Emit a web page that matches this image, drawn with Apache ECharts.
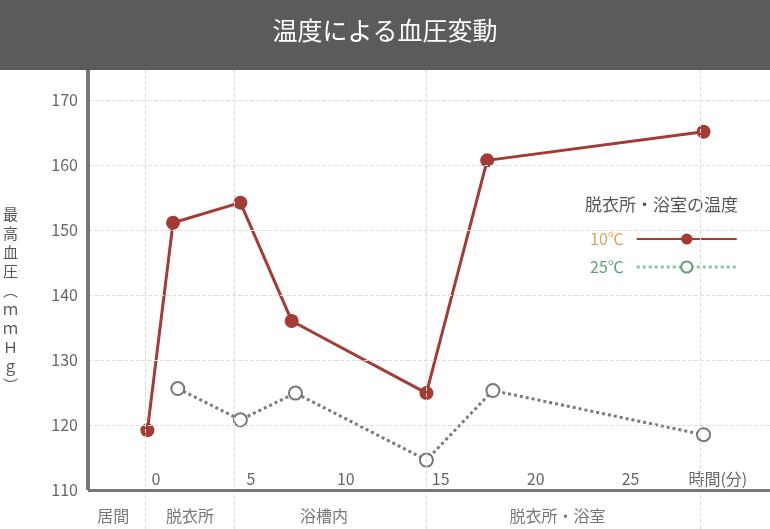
<!DOCTYPE html>
<html><head><meta charset="utf-8">
<script src="https://cdn.jsdelivr.net/npm/echarts@6/dist/echarts.min.js"></script>
<style>html,body{margin:0;padding:0;background:#fff}#main{width:770px;height:529px}</style>
</head><body><div id="main"></div>
<script>
// 時間(分) と 最高血圧
const hotTimes = [-0.4, 0.95, 4.5, 7.2, 14.3, 17.5, 28.9]
const hotValues = [119.2, 151.1, 154.2, 136, 124.9, 160.7, 165.1]
const warmTimes = [1.2, 4.5, 7.4, 14.3, 17.8, 28.9]
const warmValues = [125.6, 120.8, 124.9, 114.6, 125.3, 118.5]
const xTicks = [0, 5, 10, 15, 20, 25]
const yTicks = [110, 120, 130, 140, 150, 160, 170]
const zoneBounds = [-0.5, 4.2, 14.3, 28.7]
const zones = [
    {name: '居間', t: -2.2},
    {name: '脱衣所', t: 1.85},
    {name: '浴槽内', t: 8.9},
    {name: '脱衣所・浴室', t: 21.2}
]
const xMin = -3.53, xMax = 32.4, yMin = 104, yMax = 174.6

const chart = echarts.init(document.getElementById('main'))
const font = '"Noto Sans CJK JP", sans-serif'

let options = {
    textStyle: {fontFamily: font},
    grid: {left: 88, right: 0, top: 70, bottom: 0},
    graphic: [
        {type: 'rect', left: 0, top: 0, shape: {width: 770, height: 70}, style: {fill: '#5b5b5b'}},
        {type: 'text', left: 'center', top: 18, style: {text: '温度による血圧変動', fill: '#fff', font: '25px ' + font}},
        {type: 'text', left: 585, top: 196, style: {text: '脱衣所・浴室の温度', fill: '#555', font: '17px ' + font}}
    ],
    legend: {
        orient: 'vertical', left: 585, top: 226, align: 'right',
        itemWidth: 100, itemHeight: 14, itemGap: 12,
        textStyle: {fontSize: 16, fontFamily: font, padding: [0, 8, 0, 0]},
        data: [
            {name: '10℃', textStyle: {color: '#e3a15a'}},
            {name: '25℃', textStyle: {color: '#5f9e7c'}, lineStyle: {color: '#8fc0a4', type: 'dotted', width: 3}, itemStyle: {borderColor: '#5f9e7c', color: '#fff'}}
        ]
    },
    xAxis: {
        type: 'value', min: xMin, max: xMax,
        axisLine: {show: false}, axisTick: {show: false}, splitLine: {show: false},
        axisLabel: {
            customValues: xTicks.concat([29.6]),
            inside: true, margin: 0, verticalAlign: 'bottom',
            color: '#666', fontSize: 16, padding: [0, 0, 42, 2], showMinLabel: true, showMaxLabel: true,
            formatter: v => v > 28 ? '時間(分)' : String(v)
        }
    },
    yAxis: {
        type: 'value', min: yMin, max: yMax,
        axisLine: {show: false}, axisTick: {show: false}, splitLine: {show: false},
        axisLabel: {customValues: yTicks, color: '#666', fontSize: 16, margin: 10},
        name: '最\n高\n血\n圧\n︵\nｍ\nｍ\nＨ\nｇ\n︶', nameLocation: 'middle', nameRotate: 0, nameGap: 70,
        nameTextStyle: {color: '#555', fontSize: 15, lineHeight: 19}
    },
    series: [
        {
            name: 'frame', type: 'line', data: [], silent: true,
            markLine: {
                symbol: 'none', silent: true, label: {show: false},
                data: yTicks.slice(1).map(v => ({yAxis: v, lineStyle: {color: '#ddd', type: 'dashed', width: 1}}))
                    .concat(zoneBounds.map(t => [{coord: [t, yMin], lineStyle: {color: '#ddd', type: 'dashed', width: 1}}, {coord: [t, yMax]}]))
                    .concat([
                        {yAxis: 110, lineStyle: {color: '#777', type: 'solid', width: 3}},
                        [{coord: [xMin, 110], lineStyle: {color: '#777', type: 'solid', width: 4}}, {coord: [xMin, yMax]}]
                    ])
            }
        },
        {
            name: 'zones', type: 'scatter', symbolSize: 0, silent: true,
            data: zones.map(z => ({value: [z.t, 106], name: z.name})),
            label: {show: true, position: 'inside', formatter: p => p.name, color: '#555', fontSize: 16}
        },
        {
            name: '25℃', type: 'line', z: 3,
            data: warmTimes.map((t, i) => [t, warmValues[i]]),
            symbol: 'circle', symbolSize: 13,
            lineStyle: {color: '#7a7a7a', width: 3, type: 'dotted'},
            itemStyle: {color: '#fff', borderColor: '#777', borderWidth: 2}
        },
        {
            name: '10℃', type: 'line', z: 4,
            data: hotTimes.map((t, i) => [t, hotValues[i]]),
            symbol: 'circle', symbolSize: 14,
            lineStyle: {color: '#a23c34', width: 3},
            itemStyle: {color: '#a23c34'}
        }
    ]
}
chart.setOption(options, true)
</script></body></html>
